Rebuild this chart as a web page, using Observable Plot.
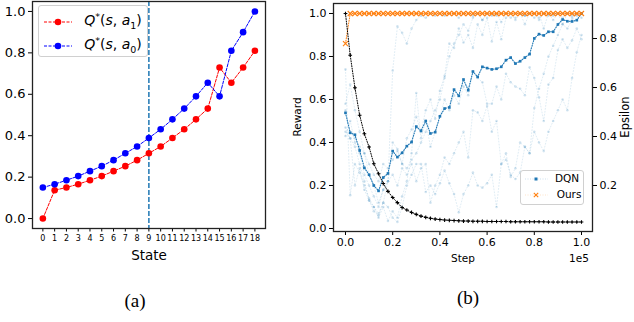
<!DOCTYPE html>
<html><head><meta charset="utf-8">
<script src="https://cdn.jsdelivr.net/npm/d3@7"></script>
<script src="https://cdn.jsdelivr.net/npm/@observablehq/plot@0.6"></script>
<style>
body{margin:0;background:#fff;}
#root{position:relative;width:634px;height:322px;overflow:hidden;font-family:"DejaVu Sans",sans-serif;background:#fff;}
.abs{position:absolute;}
.lbl{position:absolute;white-space:nowrap;color:#000;transform:translate(-50%,-50%);line-height:1;}
.m{font-style:italic;}
svg{overflow:visible;}
</style></head><body><div id="root"></div>
<script>
// ---------- Panel (a) data ----------
const states = [0,1,2,3,4,5,6,7,8,9,10,11,12,13,14,15,16,17,18];
const qA1 = [0.0,0.137,0.15,0.166,0.185,0.205,0.229,0.253,0.282,0.315,0.348,0.389,0.431,0.479,0.531,0.729,0.656,0.729,0.81];
const qA0 = [0.15,0.166,0.185,0.205,0.229,0.253,0.282,0.315,0.348,0.389,0.431,0.479,0.531,0.59,0.656,0.59,0.81,0.9,1.0];
const yTicksA = [0,0.2,0.4,0.6,0.8,1.0];
const markedState = 9;

// ---------- Panel (b) data (step in units of 1e5) ----------
const steps = [0,0.02,0.04,0.06,0.08,0.1,0.12,0.14,0.16,0.18,0.2,0.22,0.24,0.26,0.28,0.3,0.32,0.34,0.36,0.38,0.4,0.42,0.44,0.46,0.48,0.5,0.52,0.54,0.56,0.58,0.6,0.62,0.64,0.66,0.68,0.7,0.72,0.74,0.76,0.78,0.8,0.82,0.84,0.86,0.88,0.9,0.92,0.94,0.96,0.98,1.0];
const dqnMain = [0.538,0.445,0.436,0.363,0.282,0.25,0.2,0.175,0.237,0.256,
 0.36,0.332,0.352,0.383,0.402,0.474,0.454,0.5,0.442,0.448,
 0.522,0.558,0.563,0.646,0.617,0.693,0.643,0.73,0.705,0.752,
 0.746,0.74,0.743,0.752,0.783,0.795,0.767,0.778,0.795,0.811,
 0.884,0.904,0.898,0.915,0.915,0.949,0.972,0.964,0.963,0.969,1.0];
const run1 = [0.74,0.155,0.3,0.26,0.2,0.14,0.1,0.07,0.12,0.22,
 0.735,0.94,0.91,0.86,0.93,0.97,0.99,0.98,1.0,0.99,
 1.0,0.99,1.0,1.0,0.98,1.0,1.0,0.99,1.0,0.97,
 1.0,1.0,0.99,1.0,1.0,0.98,1.0,1.0,0.99,1.0,
 1.0,0.98,1.0,1.0,0.99,1.0,1.0,1.0,0.99,1.0,1.0];
const run2 = [0.58,0.67,0.55,0.45,0.35,0.25,0.2,0.12,0.18,0.22,
 0.4,0.37,0.3,0.42,0.46,0.52,0.45,0.55,0.6,0.51,
 0.64,0.71,0.86,0.84,0.93,0.865,0.9,0.84,0.95,0.9,
 0.98,0.87,0.96,0.88,0.98,1.0,0.97,1.0,0.95,1.0,
 0.98,1.0,0.93,1.0,0.97,1.0,0.95,1.0,0.98,1.0,1.0];
const run3 = [0.45,0.42,0.38,0.3,0.22,0.13,0.1,0.05,0.1,0.035,
 0.08,0.05,0.15,0.22,0.35,0.63,0.42,0.5,0.38,0.45,
 0.52,0.6,0.55,0.62,0.58,0.66,0.62,0.73,0.7,0.68,
 0.58,0.58,0.66,0.6,0.72,0.68,0.66,0.65,0.62,0.75,
 0.7,0.61,0.5,0.67,0.7,0.83,0.88,0.84,0.875,0.93,0.88];
const run4 = [0.47,0.42,0.2,0.28,0.18,0.13,0.08,0.06,0.12,0.1,
 0.05,0.03,0.1,0.2,0.25,0.3,0.3,0.17,0.2,0.16,
 0.21,0.27,0.21,0.16,0.075,0.16,0.2,0.26,0.2,0.19,
 0.21,0.25,0.1,0.3,0.32,0.25,0.23,0.26,0.38,0.35,
 0.45,0.4,0.36,0.45,0.5,0.55,0.6,0.55,0.7,0.82,0.9];
const run5 = [0.43,0.5,0.4,0.35,0.25,0.2,0.15,0.1,0.18,0.22,
 0.25,0.2,0.28,0.25,0.3,0.22,0.28,0.3,0.12,0.2,
 0.25,0.33,0.3,0.35,0.4,0.45,0.33,0.55,0.54,0.5,
 0.57,0.45,0.5,0.3,0.35,0.24,0.28,0.4,0.38,0.35,
 0.56,0.65,0.72,0.8,0.85,0.9,0.95,0.93,0.97,1.0,0.98];
const run6 = [0.55,0.45,0.42,0.38,0.35,0.3,0.25,0.22,0.3,0.28,
 0.32,0.36,0.3,0.28,0.32,0.35,0.4,0.45,0.5,0.55,
 0.6,0.7,0.8,0.86,0.9,0.95,0.92,0.98,1.0,0.97,
 1.0,0.99,1.0,0.96,1.0,1.0,0.98,1.0,0.99,1.0,
 1.0,0.97,1.0,0.99,1.0,1.0,0.98,1.0,1.0,0.99,1.0];
const oursReward = [0.86,1,1,1,1,1,1,1,1,1,1,1,1,1,1,1,1,1,1,1,1,1,1,1,1,1,1,1,1,1,1,1,1,1,1,1,1,1,1,1,1,1,1,1,1,1,1,1,1,1,1];
const epsilon = [0.902,0.732,0.599,0.487,0.411,0.357,0.289,0.248,0.208,0.176,
 0.151,0.13,0.11,0.1,0.09,0.082,0.075,0.07,0.066,0.063,
 0.061,0.059,0.058,0.057,0.056,0.055,0.055,0.054,0.054,0.054,
 0.053,0.053,0.053,0.053,0.053,0.052,0.052,0.052,0.052,0.052,
 0.052,0.052,0.052,0.051,0.051,0.051,0.051,0.051,0.051,0.051,0.051];
const xTicksB = [0,0.2,0.4,0.6,0.8,1.0];
const yTicksB = [0,0.2,0.4,0.6,0.8,1.0];
const epsTicks = [0.2,0.4,0.6,0.8];

const root = document.getElementById("root");
const fmt1 = d3.format(".1f");
const BLUE = "#1f77b4", ORANGE = "#ff7f0e";

// ---------- Panel (a) ----------
const dA1 = states.map((s,i)=>({s, q:qA1[i]}));
const dA0 = states.map((s,i)=>({s, q:qA0[i]}));
const plotA = Plot.plot({
  width: 275, height: 270,
  marginLeft: 32, marginRight: 10, marginTop: 1, marginBottom: 42,
  x: {domain: [-0.88, 18.9]},
  y: {domain: [-0.048, 1.048]},
  style: {background: "transparent", fontFamily: "DejaVu Sans", color: "#000"},
  marks: [
    Plot.ruleX([markedState], {stroke: BLUE, strokeWidth: 1.5, strokeDasharray: "5,2"}),
    Plot.line(dA1, {x: "s", y: "q", stroke: "red", strokeWidth: 1, strokeDasharray: "3,1.5"}),
    Plot.dot(dA1, {x: "s", y: "q", fill: "red", r: 3.3}),
    Plot.line(dA0, {x: "s", y: "q", stroke: "blue", strokeWidth: 1, strokeDasharray: "3,1.5"}),
    Plot.dot(dA0, {x: "s", y: "q", fill: "blue", r: 3.3}),
    Plot.axisY({ticks: yTicksA, tickFormat: fmt1, tickSize: 4, tickPadding: 3, fontSize: 13, label: null}),
    Plot.axisX({ticks: states, tickFormat: d => String(d), tickSize: 3.5, tickPadding: 3, fontSize: 8, label: null}),
    Plot.frame({stroke: "#222", strokeWidth: 1.3})
  ]
});
plotA.style.position = "absolute"; plotA.style.left = "0px"; plotA.style.top = "0px";
root.appendChild(plotA);

// ---------- Panel (b) ----------
const runs = [run1, run2, run3, run4, run5, run6];
const runData = runs.flatMap((r,k)=> steps.map((x,i)=>({x, y:r[i], run:k})));
const mainData = steps.map((x,i)=>({x, y:dqnMain[i]}));
const oursData = steps.map((x,i)=>({x, y:oursReward[i]}));
const epsData = steps.map((x,i)=>({x, e:epsilon[i]}));

const commonB = {width: 344, height: 270, marginLeft: 43, marginRight: 42, marginTop: 3, marginBottom: 39};
const plotB = Plot.plot({
  ...commonB,
  x: {domain: [-0.0508, 1.0466]},
  y: {domain: [-0.014, 1.0465]},
  style: {background: "transparent", fontFamily: "DejaVu Sans", color: "#000"},
  marks: [
    Plot.line(runData, {x: "x", y: "y", z: "run", stroke: BLUE, strokeOpacity: 0.18, strokeWidth: 0.8, strokeDasharray: "1,2"}),
    Plot.dot(runData, {x: "x", y: "y", fill: BLUE, fillOpacity: 0.2, r: 1.3}),
    Plot.line(mainData, {x: "x", y: "y", stroke: BLUE, strokeWidth: 1.1, strokeDasharray: "1,1.5"}),
    Plot.dot(mainData, {x: "x", y: "y", symbol: "square", fill: BLUE, r: 1.5}),
    Plot.line(oursData, {x: "x", y: "y", stroke: ORANGE, strokeWidth: 1, strokeDasharray: "1,1.5"}),
    Plot.dot(oursData, {x: "x", y: "y", symbol: "times", stroke: ORANGE, strokeWidth: 1.1, r: 2.4}),
    Plot.axisY({ticks: yTicksB, tickFormat: fmt1, tickSize: 4, tickPadding: 3, fontSize: 11, label: null}),
    Plot.axisX({ticks: xTicksB, tickFormat: fmt1, tickSize: 4, tickPadding: 3, fontSize: 11, label: null}),
    Plot.frame({stroke: "#222", strokeWidth: 1.3})
  ]
});
plotB.style.position = "absolute"; plotB.style.left = "290px"; plotB.style.top = "0px";
root.appendChild(plotB);

const plotE = Plot.plot({
  ...commonB,
  x: {domain: [-0.0508, 1.0466], axis: null},
  y: {domain: [0.0122, 0.943]},
  style: {background: "transparent", fontFamily: "DejaVu Sans", color: "#000"},
  marks: [
    Plot.line(epsData, {x: "x", y: "e", stroke: "#000", strokeWidth: 1, strokeDasharray: "1,1.5"}),
    Plot.dot(epsData, {x: "x", y: "e", symbol: "plus", stroke: "#000", strokeWidth: 1.1, r: 1.3}),
    Plot.axisY({anchor: "right", ticks: epsTicks, tickFormat: fmt1, tickSize: 4, tickPadding: 3, fontSize: 11, label: null})
  ]
});
plotE.style.position = "absolute"; plotE.style.left = "290px"; plotE.style.top = "0px";
root.appendChild(plotE);

// ---------- Labels & legends ----------
function label(text, x, y, size, extra) {
  const d = document.createElement("div");
  d.className = "lbl";
  d.style.left = x + "px"; d.style.top = y + "px"; d.style.fontSize = size + "px";
  if (extra) Object.assign(d.style, extra);
  d.innerHTML = text;
  root.appendChild(d);
}
label("State", 149, 256, 13.5);
label("Step", 463, 258, 10.5);
label("1e5", 579, 258, 10.5);
label("Reward", 297, 117, 10.5, {transform: "translate(-50%,-50%) rotate(-90deg)"});
label("Epsilon", 626, 117, 11.5, {transform: "translate(-50%,-50%) rotate(-90deg)"});
label("(a)", 135, 300, 19, {fontFamily: "'Liberation Serif', 'DejaVu Serif', serif"});
label("(b)", 468, 297, 19, {fontFamily: "'Liberation Serif', 'DejaVu Serif', serif"});

// legend (a)
const legA = document.createElement("div");
legA.className = "abs";
Object.assign(legA.style, {left: "38px", top: "5px", width: "110px", height: "52px", border: "1px solid #d0d0d0", borderRadius: "3px", background: "rgba(255,255,255,0.8)", boxSizing: "border-box"});
legA.innerHTML = `
<svg width="110" height="52" style="position:absolute;left:0;top:0">
 <line x1="5" x2="33" y1="16" y2="16" stroke="red" stroke-width="1" stroke-dasharray="3,1.5"/>
 <circle cx="19" cy="16" r="3.3" fill="red"/>
 <line x1="5" x2="33" y1="40" y2="40" stroke="blue" stroke-width="1" stroke-dasharray="3,1.5"/>
 <circle cx="19" cy="40" r="3.3" fill="blue"/>
</svg>`;
root.appendChild(legA);
const mathA1 = '<span class="m">Q</span><sup style="font-size:9.5px">*</sup>(<span class="m">s</span>, <span class="m">a</span><sub style="font-size:9.5px">1</sub>)';
const mathA0 = '<span class="m">Q</span><sup style="font-size:9.5px">*</sup>(<span class="m">s</span>, <span class="m">a</span><sub style="font-size:9.5px">0</sub>)';
label(mathA1, 113, 21, 14);
label(mathA0, 113, 45, 14);

// legend (b)
const legB = document.createElement("div");
legB.className = "abs";
Object.assign(legB.style, {left: "520px", top: "170px", width: "64px", height: "35px", border: "1px solid #d0d0d0", borderRadius: "3px", background: "rgba(255,255,255,0.8)", boxSizing: "border-box"});
legB.innerHTML = `
<svg width="64" height="35" style="position:absolute;left:0;top:0">
 <line x1="4" x2="27" y1="8" y2="8" stroke="${BLUE}" stroke-opacity="0.25" stroke-width="0.9" stroke-dasharray="1,1.5"/>
 <rect x="13.5" y="6.5" width="3" height="3" fill="${BLUE}"/>
 <line x1="4" x2="27" y1="24" y2="24" stroke="${ORANGE}" stroke-opacity="0.25" stroke-width="0.9" stroke-dasharray="1,1.5"/>
 <path d="M12.8,21.8L17.2,26.2M17.2,21.8L12.8,26.2" stroke="${ORANGE}" stroke-width="1.1"/>
</svg>`;
root.appendChild(legB);
label("DQN", 567, 178, 10.5);
label("Ours", 569, 194, 10.5);
</script>
</body></html>
